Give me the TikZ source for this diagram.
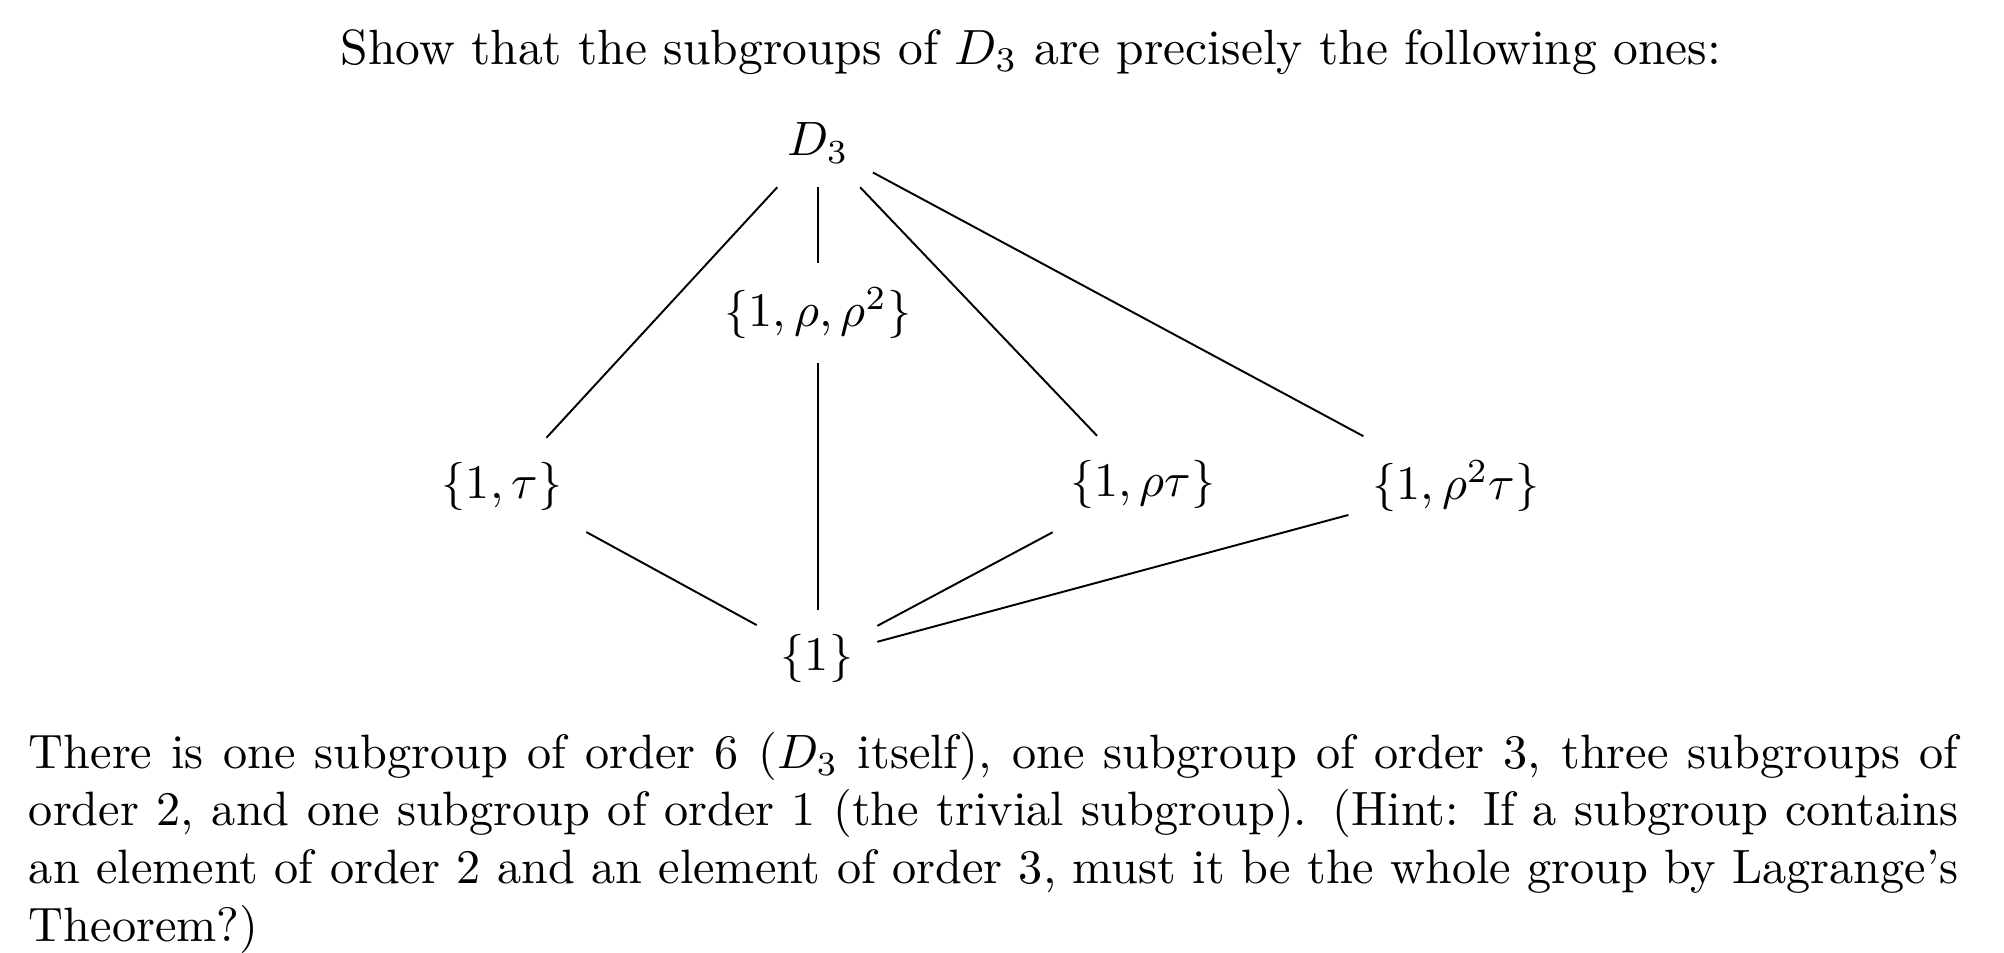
\documentclass[tikz,border=0pt]{standalone}
\usepackage{graphicx}
\begin{document}
\begin{tikzpicture}[x=0.2073pt,y=-0.2073pt,
  grp/.style={inner sep=5pt, outer sep=0pt},
  edge/.style={draw=black, line width=0.4pt}]
\useasboundingbox (0,0) rectangle (2004,952);
\node[anchor=base, inner sep=0] (title) at (1031,64) {\scalebox{1.026}{Show that the subgroups of $D_3$ are precisely the following ones:}};
\node[grp] (D) at (818,143) {$D_3$};
\node[grp] (R) at (818,313) {$\{1,\rho,\rho^2\}$};
\node[grp] (T) at (502,486) {$\{1,\tau\}$};
\node[grp] (RT) at (1143,484) {$\{1,\rho\tau\}$};
\node[grp] (RRT) at (1456,486) {$\{1,\rho^2\tau\}$};
\node[grp] (E) at (817,658) {$\{1\}$};
\draw[edge] (D) -- (T);
\draw[edge] (D) -- (R);
\draw[edge] (D) -- (RT);
\draw[edge] (D) -- (RRT);
\draw[edge] (R.south) -- (R.south |- E.north);
\draw[edge] (T) -- (E);
\draw[edge] (RT) -- (E);
\draw[edge] (RRT) -- (E);
\node[anchor=base west, inner sep=0, text width=400pt, align=justify] (para) at (28,768) {There is one subgroup of order 6 ($D_3$ itself), one subgroup of order 3, three subgroups of\linebreak order 2, and one subgroup of order 1 (the trivial subgroup). (Hint: If a subgroup contains\linebreak an element of order 2 and an element of order 3, must it be the whole group by Lagrange's\linebreak Theorem?)};
\end{tikzpicture}
\end{document}
